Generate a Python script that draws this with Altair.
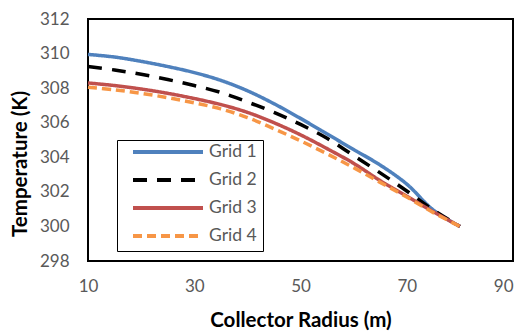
import altair as alt
import pandas as pd

radius = [10, 15, 20, 25, 30, 35, 40, 45, 50, 55, 60, 65, 70, 75, 80]
grid1 = [309.95, 309.8, 309.55, 309.25, 308.9, 308.45, 307.85, 307.1, 306.25, 305.35, 304.45, 303.55, 302.45, 300.95, 300.0]
grid2 = [309.25, 309.05, 308.8, 308.5, 308.15, 307.75, 307.2, 306.6, 305.9, 305.1, 304.1, 303.1, 302.05, 300.95, 300.0]
grid3 = [308.3, 308.15, 307.95, 307.7, 307.4, 307.05, 306.6, 306.0, 305.3, 304.5, 303.65, 302.65, 301.75, 300.85, 300.0]
grid4 = [308.05, 307.9, 307.7, 307.45, 307.15, 306.8, 306.3, 305.65, 304.95, 304.2, 303.4, 302.55, 301.7, 300.8, 300.0]
series = ["Grid 1", "Grid 2", "Grid 3", "Grid 4"]
colors = ["#4F81BD", "#000000", "#C0504D", "#F79646"]
dashes = [[1, 0], [14, 10], [1, 0], [9, 5]]
x_ticks = [10, 30, 50, 70, 90]
y_ticks = [298, 300, 302, 304, 306, 308, 310, 312]

rows = []
for name, vals in zip(series, [grid1, grid2, grid3, grid4]):
    for r, t in zip(radius, vals):
        rows.append({"radius": r, "temp": t, "series": name})
df = pd.DataFrame(rows)

FONT = "Lato"

chart = alt.Chart(df).mark_line(strokeWidth=3.5, interpolate="catmull-rom").encode(
    x=alt.X("radius:Q", scale=alt.Scale(domain=[10, 90], nice=False),
            axis=alt.Axis(values=x_ticks, title="Collector Radius (m)", grid=False,
                          domain=False, ticks=False, labelPadding=17,
                          labelFontSize=17, labelColor="#595959", labelFont=FONT,
                          labelAlign=alt.ExprRef(expr="datum.value == 90 ? 'right' : 'center'"),
                          titleFont=FONT, titleFontSize=20.5, titleFontWeight="bold",
                          titleColor="#000000", labelFlush=False,
                          titleY=65, titleBaseline="alphabetic")),
    y=alt.Y("temp:Q", scale=alt.Scale(domain=[298, 312], nice=False, zero=False),
            axis=alt.Axis(values=y_ticks, title="Temperature (K)", grid=False,
                          domain=False, ticks=False, labelPadding=19,
                          labelFontSize=17, labelColor="#595959", labelFont=FONT,
                          titleFont=FONT, titleFontSize=20.5, titleFontWeight="bold",
                          titleColor="#000000", labelFlush=False,
                          titleX=-61.5, titleY=144.5, titleBaseline="alphabetic")),
    color=alt.Color("series:N", scale=alt.Scale(domain=series, range=colors),
                    legend=alt.Legend(title=None, orient="none", legendX=29, legendY=121,
                                      symbolType="stroke", symbolSize=4900,
                                      symbolStrokeWidth=4, clipHeight=12,
                                      rowPadding=10, padding=6, labelOffset=4,
                                      symbolOffset=8,
                                      labelFontSize=17.5, labelColor="#595959",
                                      labelFont=FONT, strokeColor="#000000",
                                      fillColor="#ffffff")),
    strokeDash=alt.StrokeDash("series:N", scale=alt.Scale(domain=series, range=dashes),
                              legend=None),
).properties(
    width=425, height=242,
    padding={"left": 80, "top": 11, "right": 5, "bottom": 70},
    autosize=alt.AutoSizeParams(type="none"),
).configure_view(stroke="#000000", strokeWidth=2)

chart.save("out.html", embed_options={"renderer": "svg", "actions": False})
